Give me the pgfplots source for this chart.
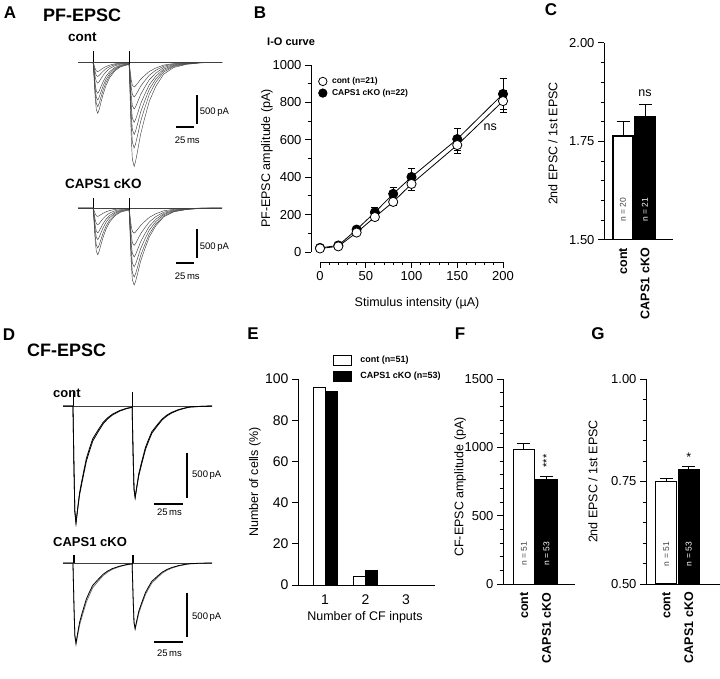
\documentclass[border=0pt]{standalone}
\usepackage{fontspec}
\setmainfont{Liberation Sans}
\usepackage{pgfplots}
\usepackage{pgfplotstable}
\pgfplotsset{compat=1.18}
\pgfkeys{/pgf/number format/1000 sep={}}

% ---- PF-EPSC traces, control (t in ms, current in pA)
\pgfplotstableread{
t c1 c2 c3 c4 c5 c6 c7
-21 0 0 0 0 0 0 0
0 0 0 0 0 0 0 0
1.5 -308 -268 -228 -187 -126 -86 -56
3 -634 -551 -468 -385 -259 -176 -115
4.5 -818 -711 -605 -498 -335 -228 -149
6.5 -880 -765 -650 -535 -360 -245 -160
8.5 -810 -704 -598 -492 -331 -225 -147
11 -686 -597 -507 -417 -281 -191 -125
14 -546 -474 -403 -332 -223 -152 -99
18 -396 -344 -293 -241 -162 -110 -72
23 -264 -230 -195 -161 -108 -74 -48
30 -150 -130 -111 -91 -61 -42 -27
38 -79 -69 -59 -48 -32 -22 -14
50 -35 -31 -26 -21 -14 -10 -6
51.5 -646 -532 -449 -373 -289 -214 -152
53 -1300 -1071 -902 -750 -583 -432 -307
54.5 -1672 -1376 -1159 -965 -750 -556 -396
57 -1796 -1478 -1245 -1036 -806 -597 -425
59 -1708 -1405 -1184 -985 -766 -568 -404
62 -1513 -1245 -1049 -873 -679 -503 -358
66 -1239 -1019 -858 -715 -556 -412 -293
71 -992 -815 -687 -572 -444 -330 -234
78 -673 -553 -466 -388 -301 -223 -158
87 -416 -343 -289 -240 -187 -138 -99
98 -204 -168 -142 -117 -91 -67 -48
112 -89 -73 -61 -51 -40 -30 -21
130 -35 -29 -25 -20 -16 -12 -8
150 -9 -7 -6 -5 -4 -3 -2
179 0 0 0 0 0 0 0
}\tAc
% ---- PF-EPSC traces, CAPS1 cKO
\pgfplotstableread{
t k1 k2 k3 k4 k5 k6
-21 0 0 0 0 0 0
0 0 0 0 0 0 0
1.5 -282 -242 -191 -151 -102 -51
3 -580 -497 -392 -310 -209 -104
4.5 -749 -642 -507 -400 -270 -135
6.5 -805 -690 -545 -430 -290 -145
8.5 -741 -635 -501 -396 -267 -133
11 -628 -538 -425 -335 -226 -113
14 -499 -428 -338 -267 -180 -90
18 -362 -311 -245 -194 -131 -65
23 -242 -207 -164 -129 -87 -44
30 -137 -117 -93 -73 -49 -25
38 -72 -62 -49 -39 -26 -13
50 -32 -28 -22 -17 -12 -6
51.5 -481 -431 -366 -304 -231 -155
53 -964 -863 -736 -611 -466 -314
54.5 -1238 -1109 -946 -785 -600 -404
57 -1329 -1191 -1016 -843 -644 -434
59 -1264 -1133 -966 -802 -612 -413
62 -1120 -1004 -856 -710 -542 -365
66 -916 -821 -701 -582 -444 -300
71 -734 -658 -561 -466 -355 -240
78 -499 -447 -381 -316 -241 -162
87 -308 -276 -235 -195 -149 -100
98 -152 -136 -115 -95 -73 -48
112 -65 -59 -50 -42 -32 -22
130 -26 -23 -20 -17 -13 -9
150 -7 -6 -5 -4 -3 -2
179 0 0 0 0 0 0
}\tAk
% ---- CF-EPSC traces, control
\pgfplotstableread{
t d1 d2
-8.6 0 0
0 0 0
0.8 -650 -650
1.6 -1170 -1170
2.6 -1300 -1300
4 -1144 -1150
5.7 -962 -985
8 -806 -835
11.5 -585 -615
14 -481 -510
17 -364 -390
22 -260 -280
26 -182 -198
30 -130 -142
34 -91 -100
40 -52 -58
46 -26 -30
51 -13 -15
51.8 -516 -516
52.6 -920 -920
53.6 -1019 -1015
55 -897 -905
56.7 -754 -775
59 -632 -655
62.5 -459 -482
65 -377 -398
68 -285 -302
73 -203 -217
77 -142 -153
81 -101 -110
85 -71 -78
91 -40 -45
97 -20 -23
101 -10 -12
111 -3 -4
120 0 0
}\tDc
% ---- CF-EPSC traces, CAPS1 cKO
\pgfplotstableread{
t e1 e2
-8.6 0 0
0 0 0
0.8 -445 -450
1.6 -801 -810
2.6 -890 -905
4 -783 -805
5.7 -659 -690
8 -552 -585
11.5 -401 -435
14 -329 -360
17 -249 -275
22 -178 -198
26 -125 -140
30 -89 -100
34 -62 -70
40 -36 -41
46 -18 -21
51 -9 -10
51.8 -368 -368
52.6 -657 -660
53.6 -728 -735
55 -640 -655
56.7 -538 -560
59 -451 -472
62.5 -328 -350
65 -269 -290
68 -203 -222
73 -145 -160
77 -101 -112
81 -72 -81
85 -51 -57
91 -29 -33
97 -14 -17
101 -7 -9
111 -2 -3
120 0 0
}\tDk

\tikzset{
  sblab/.style={font=\fontsize{9.5}{9.5}\selectfont, inner sep=0pt},
  nlab/.style={rotate=90, font=\fontsize{8.5}{8.5}\selectfont, inner sep=0pt},
}
\pgfplotsset{
  every axis/.append style={/pgf/number format/assume math mode=true},
  tracax/.style={hide axis, clip=false, anchor=south west},
  tr/.style={black!75, line width=0.45pt, mark=none},
  sbar/.style={black, line width=2.6pt, mark=none},
  barax/.style={
    scale only axis, anchor=south west,
    axis x line*=bottom, axis y line*=left, axis line style={-, line width=1pt},
    tick align=outside, major tick length=6pt, minor tick length=3.5pt,
    tick style={line width=1pt, black},
    xtick style={draw=none},
    yticklabel style={font=\fontsize{13}{13}\selectfont},
    ylabel style={font=\fontsize{12.5}{13}\selectfont},
    xlabel style={font=\fontsize{12.5}{13}\selectfont},
  },
  rotlab/.style={xticklabel style={rotate=90, anchor=east, inner sep=2pt,
    font=\bfseries\fontsize{12.5}{12.5}\selectfont}},
}

\begin{document}
\begin{tikzpicture}
\path[use as bounding box] (0,0) rectangle (720pt,678pt);

% ================= A: PF-EPSC control traces
\begin{axis}[tracax, at={(78pt,509.56pt)}, x=0.72pt, y=0.058pt,
  xmin=-21, xmax=179, ymin=-1830, ymax=200]
\addplot[tr] coordinates {(-21,0)(179,0)};
\addplot[tr] table[x=t,y=c7] {\tAc};
\addplot[tr] table[x=t,y=c6] {\tAc};
\addplot[tr] table[x=t,y=c5] {\tAc};
\addplot[tr] table[x=t,y=c4] {\tAc};
\addplot[tr] table[x=t,y=c3] {\tAc};
\addplot[tr] table[x=t,y=c2] {\tAc};
\addplot[tr] table[x=t,y=c1] {\tAc};
\addplot[black, line width=0.7pt] coordinates {(0,0)(0,190)};
\addplot[black, line width=0.7pt] coordinates {(50,-35)(50,190)};
\addplot[sbar] coordinates {(144,-564)(144,-1064)};
\addplot[sbar] coordinates {(115,-1115)(140,-1115)};
\node[sblab, anchor=west] at (axis cs:148,-860) {500\,pA};
\node[sblab] at (axis cs:130.8,-1340) {25\,ms};
\end{axis}

% ================= A: PF-EPSC CAPS1 cKO traces
\begin{axis}[tracax, at={(78pt,385.9pt)}, x=0.72pt, y=0.058pt,
  xmin=-21, xmax=179, ymin=-1450, ymax=200]
\addplot[tr] coordinates {(-21,0)(179,0)};
\addplot[tr] table[x=t,y=k6] {\tAk};
\addplot[tr] table[x=t,y=k5] {\tAk};
\addplot[tr] table[x=t,y=k4] {\tAk};
\addplot[tr] table[x=t,y=k3] {\tAk};
\addplot[tr] table[x=t,y=k2] {\tAk};
\addplot[tr] table[x=t,y=k1] {\tAk};
\addplot[black, line width=0.7pt] coordinates {(0,0)(0,175)};
\addplot[black, line width=0.7pt] coordinates {(50,-32)(50,175)};
\addplot[sbar] coordinates {(144,-362)(144,-862)};
\addplot[sbar] coordinates {(115,-948)(140,-948)};
\node[sblab, anchor=west] at (axis cs:148,-672) {500\,pA};
\node[sblab] at (axis cs:130.8,-1172) {25\,ms};
\end{axis}

% ================= D: CF-EPSC control traces
\begin{axis}[tracax, at={(63pt,150.5pt)}, x=1.16pt, y=0.09pt,
  xmin=-8.6, xmax=120, ymin=-1350, ymax=200]
\addplot[tr] coordinates {(-8.6,0)(120,0)};
\addplot[black, line width=0.8pt] table[x=t,y=d2] {\tDc};
\addplot[black, line width=0.8pt] table[x=t,y=d1] {\tDc};
\addplot[black, line width=0.7pt] coordinates {(0,0)(0,155)};
\addplot[black, line width=0.7pt] coordinates {(51,-13)(51,155)};
\addplot[sbar] coordinates {(98.3,-522)(98.3,-1022)};
\addplot[sbar] coordinates {(69.8,-1089)(94.8,-1089)};
\node[sblab, anchor=west] at (axis cs:102.6,-767) {500\,pA};
\node[sblab] at (axis cs:83.2,-1178) {25\,ms};
\end{axis}

% ================= D: CF-EPSC CAPS1 cKO traces
\begin{axis}[tracax, at={(63pt,29.5pt)}, x=1.16pt, y=0.09pt,
  xmin=-8.6, xmax=120, ymin=-950, ymax=150]
\addplot[tr] coordinates {(-8.6,0)(120,0)};
\addplot[black!55, line width=0.8pt] table[x=t,y=e2] {\tDk};
\addplot[black, line width=0.8pt] table[x=t,y=e1] {\tDk};
\addplot[black, line width=0.7pt] coordinates {(0,0)(0,90)(0.8,90)(0.8,0)};
\addplot[black, line width=0.7pt] coordinates {(51,-9)(51,90)(51.8,90)(51.8,0)};
\addplot[sbar] coordinates {(98.3,-333)(98.3,-822)};
\addplot[sbar] coordinates {(69.8,-878)(94.8,-878)};
\node[sblab, anchor=west] at (axis cs:102.6,-600) {500\,pA};
\node[sblab] at (axis cs:83.2,-1000) {25\,ms};
\end{axis}

% ================= B: I-O curve
\begin{axis}[scale only axis, anchor=south west, at={(320pt,426pt)},
  width=183pt, height=187pt,
  xmin=0, xmax=200, ymin=0, ymax=1000, clip=false,
  axis x line*=bottom, axis y line*=left, axis line style={-, line width=0.9pt},
  axis x line shift=10pt, axis y line shift=9pt,
  tick align=outside, major tick length=6pt, minor tick length=3pt,
  tick style={line width=0.9pt, black},
  xtick={0,50,100,150,200}, minor x tick num=4,
  ytick={0,200,400,600,800,1000}, minor y tick num=1,
  ticklabel style={font=\fontsize{13}{13}\selectfont},
  xlabel={Stimulus intensity (µA)}, ylabel={PF-EPSC amplitude (pA)},
  label style={font=\fontsize{12.5}{13}\selectfont},
  xlabel style={at={(axis description cs:0.53,-0.273)}, anchor=center},
  ylabel style={at={(axis description cs:-0.29,0.5)}, anchor=center},
  legend style={at={(axis description cs:-0.025,0.955)}, anchor=north west,
    draw=none, fill=none, font=\bfseries\fontsize{8.5}{9}\selectfont,
    row sep=0pt, cells={anchor=west},
    /tikz/every odd column/.append style={column sep=3pt}},
]
\addplot[forget plot, black, line width=0.8pt, mark=*, mark size=4.6pt,
  mark options={fill=black, line width=0.8pt},
  error bars/.cd, y dir=both, y explicit,
  error bar style={line width=0.8pt, black},
  error mark options={rotate=90, mark size=3.5pt, line width=0.8pt, black}]
  coordinates {(0,22) +- (0,5) (20,35) +- (0,8) (40,120) +- (0,12) (60,212) +- (0,25)
  (80,311) +- (0,35) (100,401) +- (0,48) (150,604) +- (0,59) (200,845) +- (0,85)};
\addplot[forget plot, black, line width=0.8pt, mark=*, mark size=4.6pt,
  mark options={fill=white, line width=0.8pt},
  error bars/.cd, y dir=both, y explicit,
  error bar style={line width=0.8pt, black},
  error mark options={rotate=90, mark size=3.5pt, line width=0.8pt, black}]
  coordinates {(0,19) +- (0,5) (20,30) +- (0,6) (40,104) +- (0,10) (60,187) +- (0,15)
  (80,268) +- (0,20) (100,364) +- (0,32) (150,572) +- (0,43) (200,807) +- (0,58)};
\addlegendimage{only marks, mark=*, mark size=4.2pt, mark options={fill=white, draw=black, line width=0.8pt}}
\addlegendentry{cont (n=21)}
\addlegendimage{only marks, mark=*, mark size=4.2pt, mark options={fill=black, draw=black, line width=0.8pt}}
\addlegendentry{CAPS1 cKO (n=22)}
\node[font=\fontsize{12.5}{12.5}\selectfont] at (axis cs:186,670) {ns};
\end{axis}

% ================= C: PPR PF
\begin{axis}[barax, rotlab, at={(604pt,438pt)}, width=69pt, height=197pt,
  xmin=-0.864, xmax=2.273, ymin=1.5, ymax=2.0,
  ytick={1.5,1.75,2}, yticklabels={1.50,1.75,2.00},
  minor ytick={1.55,1.6,1.65,1.7,1.8,1.85,1.9,1.95},
  xtick={0,1}, xticklabels={cont,CAPS1 cKO},
  ylabel={2nd EPSC / 1st EPSC},
  ylabel style={at={(axis description cs:-0.74,0.49)}, anchor=center},
]
\addplot[ybar, bar width=20pt, bar shift=0pt, fill=white, draw=black, line width=1.1pt,
  error bars/.cd, y dir=plus, y explicit, error bar style={line width=1pt},
  error mark options={rotate=90, mark size=6.5pt, line width=1pt}]
  coordinates {(0,1.764) +- (0,0.037)};
\addplot[ybar, bar width=20pt, bar shift=0pt, fill=black, draw=black, line width=1.1pt,
  error bars/.cd, y dir=plus, y explicit, error bar style={line width=1pt},
  error mark options={rotate=90, mark size=6.5pt, line width=1pt}]
  coordinates {(1,1.8125) +- (0,0.0325)};
\node[nlab, text=black!75] at (axis cs:0,1.576) {n = 20};
\node[nlab, text=white] at (axis cs:1,1.576) {n = 21};
\node[font=\fontsize{12.5}{12.5}\selectfont] at (axis cs:1,1.873) {ns};
\end{axis}

% ================= E: number of CF inputs
\begin{axis}[barax, at={(298pt,93pt)}, width=137pt, height=206pt,
  xmin=0.333, xmax=3.716, ymin=0, ymax=100,
  ytick={0,20,40,60,80,100},
  yticklabel style={font=\fontsize{14}{14}\selectfont},
  xtick={1,2,3},
  xticklabel style={font=\fontsize{14}{14}\selectfont},
  xlabel={Number of CF inputs}, ylabel={Number of cells (\%)},
  xlabel style={at={(axis description cs:0.489,-0.155)}, anchor=center},
  ylabel style={at={(axis description cs:-0.314,0.5)}, anchor=center},
  legend image code/.code={\draw[#1] (0pt,-5pt) rectangle (18pt,5pt); \path (24pt,0pt);},
  legend style={at={(axis description cs:0.234,1.13)}, anchor=north west,
    draw=none, fill=none, font=\bfseries\fontsize{9}{9}\selectfont,
    row sep=4pt, cells={anchor=west}},
]
\addplot[forget plot, ybar, bar width=12pt, bar shift=-6pt, fill=white, draw=black, line width=1pt]
  coordinates {(1,96.1) (2,3.9)};
\addplot[forget plot, ybar, bar width=12pt, bar shift=6pt, fill=black, draw=black, line width=1pt]
  coordinates {(1,93.9) (2,6.9)};
\addlegendimage{fill=white, draw=black, line width=1pt}
\addlegendentry{cont (n=51)}
\addlegendimage{fill=black, draw=black, line width=1pt}
\addlegendentry{CAPS1 cKO (n=53)}
\end{axis}

% ================= F: CF-EPSC amplitude
\begin{axis}[barax, rotlab, at={(503pt,93.7pt)}, width=72pt, height=205.3pt,
  xmin=-0.933, xmax=2.267, ymin=0, ymax=1500,
  ytick={0,500,1000,1500}, minor y tick num=4,
  xtick={0,1}, xticklabels={cont,CAPS1 cKO},
  ylabel={CF-EPSC amplitude (pA)},
  ylabel style={at={(axis description cs:-0.597,0.474)}, anchor=center},
]
\addplot[ybar, bar width=21pt, bar shift=0pt, fill=white, draw=black, line width=1.1pt,
  error bars/.cd, y dir=plus, y explicit, error bar style={line width=1pt},
  error mark options={rotate=90, mark size=6.5pt, line width=1pt}]
  coordinates {(0,988) +- (0,42)};
\addplot[ybar, bar width=21pt, bar shift=0pt, fill=black, draw=black, line width=1.1pt,
  error bars/.cd, y dir=plus, y explicit, error bar style={line width=1pt},
  error mark options={rotate=90, mark size=6.5pt, line width=1pt}]
  coordinates {(1,762) +- (0,24)};
\node[nlab, text=black!75] at (axis cs:0,221) {n = 51};
\node[nlab, text=white] at (axis cs:1,221) {n = 53};
\node[rotate=90, font=\fontsize{11}{11}\selectfont] at (axis cs:1,900) {***};
\end{axis}

% ================= G: PPR CF
\begin{axis}[barax, rotlab, at={(646pt,94pt)}, width=74pt, height=205pt,
  xmin=-0.9, xmax=2.39, ymin=0.5, ymax=1.0,
  ytick={0.5,0.75,1}, yticklabels={0.50,0.75,1.00},
  minor ytick={0.55,0.6,0.65,0.7,0.8,0.85,0.9,0.95},
  xtick={0,1}, xticklabels={cont,CAPS1 cKO},
  ylabel={2nd EPSC / 1st EPSC},
  ylabel style={at={(axis description cs:-0.716,0.5)}, anchor=center},
]
\addplot[ybar, bar width=21pt, bar shift=0pt, fill=white, draw=black, line width=1.1pt,
  error bars/.cd, y dir=plus, y explicit, error bar style={line width=1pt},
  error mark options={rotate=90, mark size=6.5pt, line width=1pt}]
  coordinates {(0,0.751) +- (0,0.007)};
\addplot[ybar, bar width=21pt, bar shift=0pt, fill=black, draw=black, line width=1.1pt,
  error bars/.cd, y dir=plus, y explicit, error bar style={line width=1pt},
  error mark options={rotate=90, mark size=6.5pt, line width=1pt}]
  coordinates {(1,0.780) +- (0,0.006)};
\node[nlab, text=black!75] at (axis cs:0,0.573) {n = 51};
\node[nlab, text=white] at (axis cs:1,0.573) {n = 53};
\node[font=\fontsize{12.5}{12.5}\selectfont] at (axis cs:1,0.81) {*};
\end{axis}

% ================= titles and panel letters
\begin{scope}[every node/.style={inner sep=0pt}]
\node[font=\bfseries\fontsize{17}{17}\selectfont] at (10pt,665.5pt) {A};
\node[font=\bfseries\fontsize{17}{17}\selectfont] at (260pt,665pt) {B};
\node[font=\bfseries\fontsize{17}{17}\selectfont] at (551pt,668pt) {C};
\node[font=\bfseries\fontsize{17}{17}\selectfont] at (9pt,343pt) {D};
\node[font=\bfseries\fontsize{17}{17}\selectfont] at (253pt,344pt) {E};
\node[font=\bfseries\fontsize{17}{17}\selectfont] at (460pt,344pt) {F};
\node[font=\bfseries\fontsize{17}{17}\selectfont] at (598pt,344pt) {G};
\node[anchor=west, font=\bfseries\fontsize{18}{18}\selectfont] at (43pt,662.5pt) {PF-EPSC};
\node[anchor=west, font=\bfseries\fontsize{13.5}{14}\selectfont] at (68pt,641pt) {cont};
\node[anchor=west, font=\bfseries\fontsize{13.5}{14}\selectfont] at (65pt,494pt) {CAPS1 cKO};
\node[anchor=west, font=\bfseries\fontsize{18}{18}\selectfont] at (27pt,328pt) {CF-EPSC};
\node[anchor=west, font=\bfseries\fontsize{13}{14}\selectfont] at (53pt,285pt) {cont};
\node[anchor=west, font=\bfseries\fontsize{13}{14}\selectfont] at (53pt,136pt) {CAPS1 cKO};
\node[anchor=west, font=\bfseries\fontsize{11}{11}\selectfont] at (267pt,636pt) {I-O curve};
\end{scope}
\end{tikzpicture}
\end{document}
